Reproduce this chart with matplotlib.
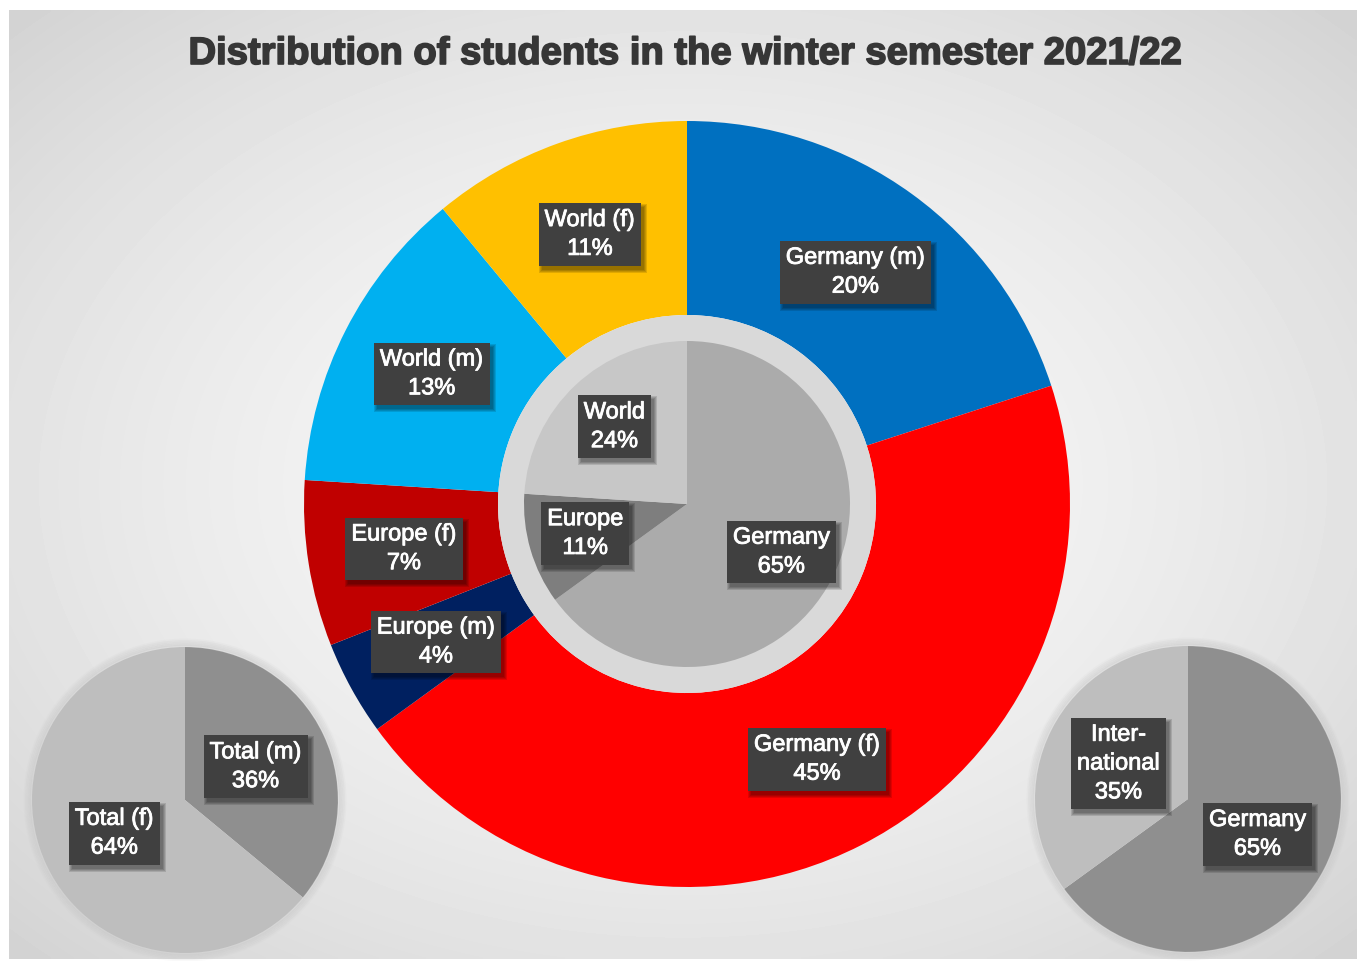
import numpy as np
import matplotlib
matplotlib.use("Agg")
import matplotlib.pyplot as plt
import matplotlib.patheffects as pe
from matplotlib.patches import Rectangle

# -------- Data --------
outer_labels = ["Germany (m)", "Germany (f)", "Europe (m)", "Europe (f)", "World (m)", "World (f)"]
outer_values = [20, 45, 4, 7, 13, 11]
outer_colors = ["#0070C0", "#FF0000", "#002060", "#C00000", "#00B0F0", "#FFC000"]

inner_labels = ["Germany", "Europe", "World"]
inner_values = [65, 11, 24]
inner_colors = ["#ABABAB", "#7E7E7E", "#C7C7C7"]

gender_labels = ["Total (m)", "Total (f)"]
gender_values = [36, 64]
gender_colors = ["#8F8F8F", "#BEBEBE"]

origin_labels = ["Germany", "Inter-\nnational"]
origin_values = [65, 35]
origin_colors = ["#8F8F8F", "#BEBEBE"]

W, H = 1364, 962
plt.rcParams["font.family"] = ["Liberation Sans", "DejaVu Sans"]

fig = plt.figure(figsize=(W / 100, H / 100), dpi=100)
ax = fig.add_axes([0, 0, 1, 1])
ax.set_axis_off()

# -------- Background: radial grey gradient inside the chart area --------
x0, x1, y0, y1 = 9, 1357, H - 960, H - 11
gx, gy = np.meshgrid(np.linspace(-1, 1, 400), np.linspace(-1, 1, 300))
d = np.sqrt(gx ** 2 + gy ** 2) / np.sqrt(2)
shade = 0.975 - 0.15 * d ** 1.6
ax.imshow(shade, cmap="gray", vmin=0, vmax=1, extent=[x0, x1, y0, y1],
          origin="lower", zorder=0, interpolation="bilinear")

label_texts = []


def label_box(x, y, txt):
    t = ax.text(x, y, txt, ha="center", va="center", fontsize=17,
                color="white", linespacing=1.4, zorder=6,
                path_effects=[pe.withStroke(linewidth=0.6, foreground="white")],
                bbox=dict(boxstyle="square,pad=0.25", fc="#404040", ec="none"))
    label_texts.append(t)


def place_labels(wedges, center, radius, names, values, frac):
    for w, name, v in zip(wedges, names, values):
        ang = np.deg2rad((w.theta1 + w.theta2) / 2)
        lx = center[0] + frac * radius * np.cos(ang)
        ly = center[1] + frac * radius * np.sin(ang)
        label_box(lx, ly, f"{name}\n{v}%")


# -------- Main donut (outer ring) --------
c_main = (687, H - 505)
R_out, R_in = 383, 189
wedges_out, _ = ax.pie(outer_values, colors=outer_colors, radius=R_out, center=c_main,
                       startangle=90, counterclock=False,
                       wedgeprops=dict(width=R_out - R_in, linewidth=0))
for w in wedges_out:
    w.set_zorder(2)
place_labels(wedges_out, c_main, R_out, outer_labels, outer_values, 0.748)

# light ring and inner pie
ring = plt.Circle(c_main, R_in, color="#D9D9D9", zorder=2, lw=0)
ax.add_patch(ring)
R_pie = 163
wedges_in, _ = ax.pie(inner_values, colors=inner_colors, radius=R_pie, center=c_main,
                      startangle=90, counterclock=False, wedgeprops=dict(linewidth=0))
for w in wedges_in:
    w.set_zorder(3)
place_labels(wedges_in, c_main, R_pie, inner_labels, inner_values, 0.65)

# -------- Small pies: gender (left) and origin (right) --------
R_small = 153
c_left = (185, H - 801)
c_right = (1188, H - 800)
wedges_l, _ = ax.pie(gender_values, colors=gender_colors, radius=R_small, center=c_left,
                     startangle=90, counterclock=False, wedgeprops=dict(linewidth=0))
wedges_r, _ = ax.pie(origin_values, colors=origin_colors, radius=R_small, center=c_right,
                     startangle=90, counterclock=False, wedgeprops=dict(linewidth=0))
# soft edge around the small pies
for c in (c_left, c_right):
    for k in range(5):
        ax.add_patch(plt.Circle(c, R_small + 1 + k * 1.5, fill=False, lw=2,
                                ec="#C4C4C4", alpha=0.3 - k * 0.05, zorder=1))
place_labels(wedges_l, c_left, R_small, gender_labels, gender_values, 0.51)
place_labels(wedges_r, c_right, R_small, origin_labels, origin_values, 0.51)

# -------- Title --------
ax.text(686, H - 55, "Distribution of students in the winter semester 2021/22",
        ha="center", va="center", fontsize=27.5, fontweight="bold", color="#363636", zorder=6,
        path_effects=[pe.withStroke(linewidth=1.2, foreground="#363636")])

ax.set_xlim(0, W)
ax.set_ylim(0, H)
ax.set_aspect("equal")

# soft drop shadows behind the label boxes
fig.canvas.draw()
inv = ax.transData.inverted()
for t in label_texts:
    ext = t.get_bbox_patch().get_window_extent()
    (bx0, by0), (bx1, by1) = inv.transform([[ext.x0, ext.y0], [ext.x1, ext.y1]])
    for k in range(4):
        grow = 3 - k
        ax.add_patch(Rectangle((bx0 + 3 - grow, by0 - 4 - grow),
                               bx1 - bx0 + 2 * grow, by1 - by0 + 2 * grow,
                               fc="black", ec="none", alpha=0.12, zorder=5))

fig.savefig("out.png", dpi=100, facecolor="white")
